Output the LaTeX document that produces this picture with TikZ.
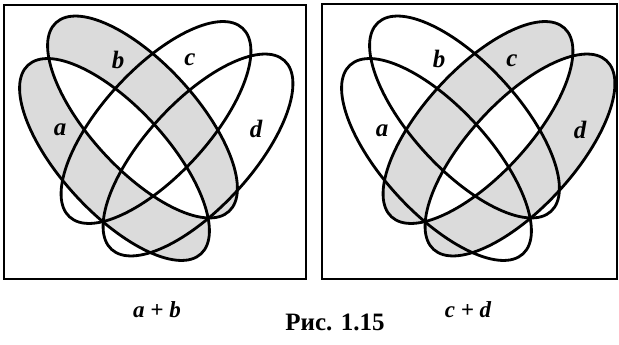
\documentclass[tikz,border=0pt]{standalone}
\usepackage{fontspec}
\setmainfont{Liberation Serif}
\begin{document}
\begin{tikzpicture}[x=1pt,y=-1pt,
  venn/.style={line width=2.8pt},
  shaded/.style={fill=gray!28, even odd rule},
  panel/.style={line width=1.8pt},
  setlbl/.style={font=\fontsize{25}{25}\selectfont\bfseries\itshape, inner sep=0pt},
  caplbl/.style={font=\fontsize{23}{23}\selectfont\bfseries\itshape, inner sep=0pt},
  figlbl/.style={font=\fontsize{25}{25}\selectfont\bfseries, inner sep=0pt}]
\useasboundingbox (0,0) rectangle (619,345);
\fill[white] (0,0) rectangle (619,345);
\def\EllA{(114.5,159.5) ellipse [x radius=128pt, y radius=53pt, rotate=-47.5]}
\def\EllB{(142.5,117) ellipse [x radius=128pt, y radius=53pt, rotate=-47.5]}
\def\EllC{(156,122.5) ellipse [x radius=128pt, y radius=53pt, rotate=47.5]}
\def\EllD{(198,155) ellipse [x radius=128pt, y radius=53pt, rotate=47.5]}
% left panel: a + b
\fill[shaded] \EllA \EllB;
\draw[venn] \EllA;
\draw[venn] \EllB;
\draw[venn] \EllC;
\draw[venn] \EllD;
\draw[panel] (4,5) rectangle (306,279);
\node[setlbl] (la) at (60,130) {a};
\node[setlbl] (lb) at (118,60) {b};
\node[setlbl] (lc) at (190,60) {c};
\node[setlbl] (ld) at (256,129) {d};
% right panel: c + d
\begin{scope}[xshift=322pt]
\fill[shaded] \EllC \EllD;
\draw[venn] \EllA;
\draw[venn] \EllB;
\draw[venn] \EllC;
\draw[venn] \EllD;
\node[setlbl] (ra) at (60,131) {a};
\node[setlbl] (rb) at (117,59) {b};
\node[setlbl] (rc) at (190,61) {c};
\node[setlbl] (rd) at (258,130) {d};
\end{scope}
\draw[panel] (322,4) rectangle (617,279);
\node[caplbl] (sumab) at (157,310) {a + b};
\node[caplbl] (sumcd) at (468,310) {c + d};
\node[figlbl] (fig) at (335,322) {Рис. 1.15};
\end{tikzpicture}
\end{document}
